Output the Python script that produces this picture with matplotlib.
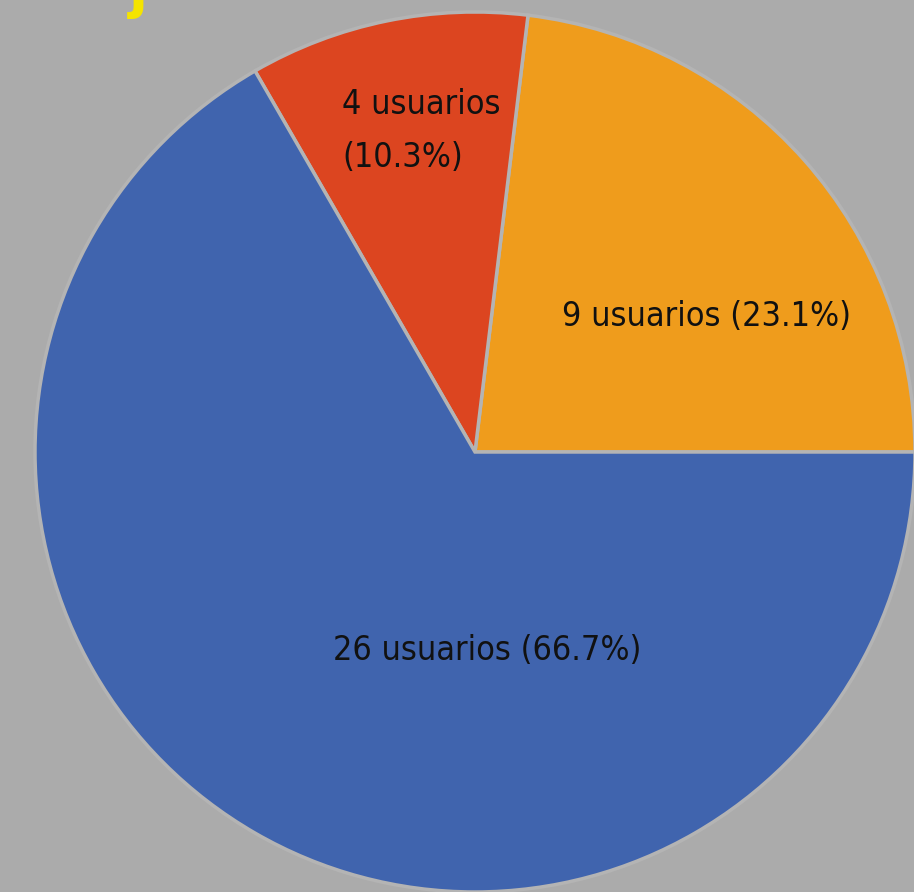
import matplotlib
matplotlib.use("Agg")
import matplotlib.pyplot as plt

categories = ["9 usuarios", "4 usuarios", "26 usuarios"]
values = [9, 4, 26]
percents = ["23.1%", "10.3%", "66.7%"]
colors = ["#EF9C1C", "#DC4520", "#4064AE"]

W, H = 914, 892
cx, cy, R = 475, 452, 440
fig = plt.figure(figsize=(W / 100, H / 100), dpi=100)
fig.patch.set_facecolor("#ABABAB")
ax = fig.add_axes([0, 0, 1, 1])
ax.set_facecolor("#ABABAB")
ax.pie(values, colors=colors, startangle=0, counterclock=True, radius=1,
       wedgeprops=dict(edgecolor="#B4B4B4", linewidth=2.5))
ax.set_xlim(-cx / R, (W - cx) / R)
ax.set_ylim(-(H - cy) / R, cy / R)
ax.set_aspect("equal")
ax.axis("off")

fam = ["DejaVu Sans"]
kw = dict(fontsize=24.5, family=fam, fontstretch="condensed", color="#111111")
ax.text(0.527, 0.309, f"{categories[0]} ({percents[0]})", ha="center", va="center", **kw)
ax.text(-0.302, 0.73, f"{categories[1]}\n({percents[1]})", ha="left", va="center",
        linespacing=1.75, **kw)
ax.text(0.027, -0.45, f"{categories[2]} ({percents[2]})", ha="center", va="center", **kw)

# cropped yellow title fragment at the very top
fig.text(129 / W, 1 - 7 / H, "j", ha="left", va="baseline", fontsize=40,
         family=fam, color="#F5E400", fontweight="bold")

fig.savefig("out.png", dpi=100, facecolor=fig.get_facecolor())
